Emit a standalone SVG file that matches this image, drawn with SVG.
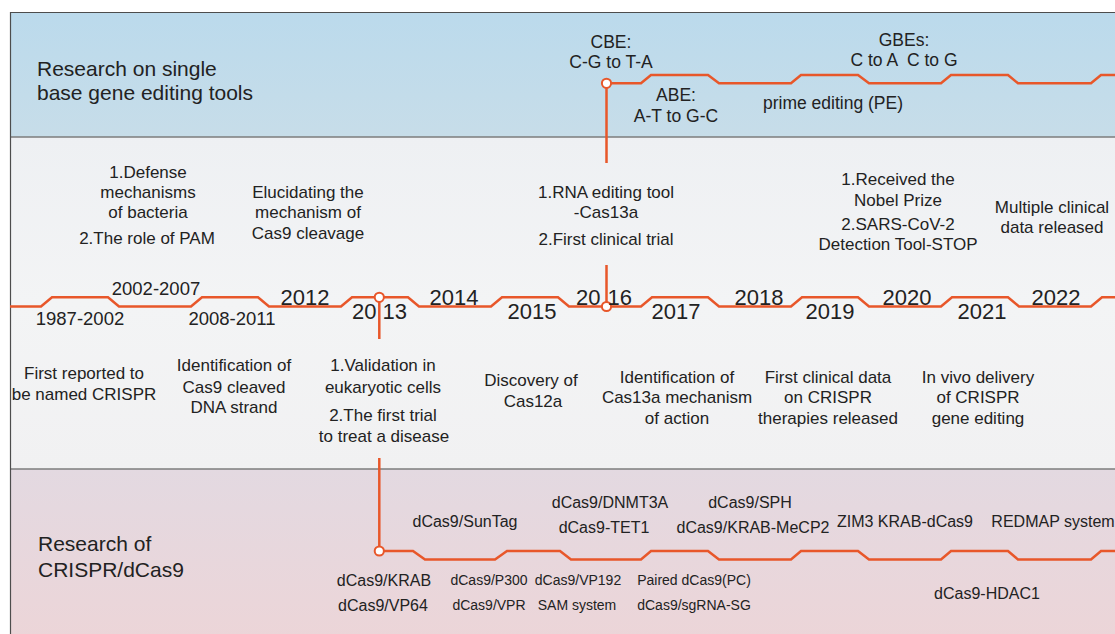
<svg xmlns="http://www.w3.org/2000/svg" width="1115" height="634" viewBox="0 0 1115 634">
  <defs>
    <linearGradient id="bgTop" x1="0" y1="0" x2="0" y2="1">
      <stop offset="0" stop-color="#bbdaec"/>
      <stop offset="1" stop-color="#c7dde9"/>
    </linearGradient>
    <linearGradient id="bgMid" x1="0" y1="0" x2="0" y2="1">
      <stop offset="0" stop-color="#eef0f3"/>
      <stop offset="0.5" stop-color="#f3f4f5"/>
      <stop offset="1" stop-color="#f1f1f2"/>
    </linearGradient>
    <linearGradient id="bgBot" x1="0" y1="0" x2="0" y2="1">
      <stop offset="0" stop-color="#e3d9e1"/>
      <stop offset="1" stop-color="#ecd5d8"/>
    </linearGradient>
  </defs>
  <style>
    text { font-family: "Liberation Sans", Arial, sans-serif; fill: #222; text-anchor: middle; }
    .title { font-size: 21px; text-anchor: start; }
    .base { font-size: 17.5px; }
    .ev { font-size: 17px; }
    .yr { font-size: 22px; }
    .yrs { font-size: 18.5px; }
    .dc { font-size: 16px; }
    .dcs { font-size: 14px; }
    .track { fill: none; stroke: #e8572a; stroke-width: 2.5; stroke-linejoin: miter; }
    .dot { fill: #fff; stroke: #e8572a; stroke-width: 2; }
    .sep { stroke: #7d7d7d; stroke-width: 1.5; }
  </style>

  <!-- panels -->
  <g id="panels">
    <rect x="10" y="12" width="1110" height="125" fill="url(#bgTop)"/>
    <rect x="10" y="137" width="1110" height="332" fill="url(#bgMid)"/>
    <rect x="10" y="469" width="1110" height="170" fill="url(#bgBot)"/>
    <line class="sep" x1="10" y1="137" x2="1115" y2="137"/>
    <line class="sep" x1="10" y1="469" x2="1115" y2="469"/>
    <path d="M10.5,640 V12.5 H1120" fill="none" stroke="#4d4d4d" stroke-width="1.2"/>
  </g>

  <!-- timeline tracks and links -->
  <g id="connectors">
    <path class="track" d="M606.5,83.3 H641 L651,75 H708 L719,83.3 H791 L801,75 H858 L869,83.3 H941 L951,75 H1008 L1018,83.3 H1091 L1101,75 H1116"/>
    <path class="track" d="M10,306.5 H41 L52,297.3 H108 L119,306.5 H191 L202,297.3 H258 L269,306.5 H341 L352,297.3 H408 L419,306.5 H491 L502,297.3 H558 L569,306.5 H641 L652,297.3 H708 L719,306.5 H791 L802,297.3 H858 L869,306.5 H941 L952,297.3 H1008 L1019,306.5 H1091 L1102,297.3 H1116"/>
    <path class="track" d="M379.3,551 H413 L425,559.5 H495 L507,551 H560 L571,559.5 H641 L651,551 H708 L719,559.5 H791 L801,551 H858 L869,559.5 H941 L951,551 H1008 L1018,559.5 H1091 L1101,551 H1116"/>
    <path class="track" d="M606.5,83.3 V163 M606.5,265 V306.5 M379.3,297.3 V339 M379.3,458 V551"/>
    <circle class="dot" cx="606.5" cy="83.3" r="4.6"/>
    <circle class="dot" cx="606.5" cy="306.5" r="4.6"/>
    <circle class="dot" cx="379.3" cy="297.3" r="4.6"/>
    <circle class="dot" cx="379.3" cy="551" r="4.6"/>
  </g>

  <!-- section titles -->
  <g id="title-base">
    <text class="title" x="37" y="76">Research on single</text>
    <text class="title" x="37" y="100">base gene editing tools</text>
  </g>
  <g id="title-dcas9">
    <text class="title" x="38" y="551">Research of</text>
    <text class="title" x="38" y="577">CRISPR/dCas9</text>
  </g>

  <!-- base editing milestones -->
  <g id="cbe">
    <text class="base" x="611" y="48">CBE:</text>
    <text class="base" x="611" y="68">C-G to T-A</text>
  </g>
  <g id="abe">
    <text class="base" x="676" y="101">ABE:</text>
    <text class="base" x="676" y="122">A-T to G-C</text>
  </g>
  <g id="pe">
    <text class="base" x="833" y="109">prime editing (PE)</text>
  </g>
  <g id="gbe">
    <text class="base" x="904" y="46">GBEs:</text>
    <text class="base" x="904" y="66" xml:space="preserve">C to A  C to G</text>
  </g>

  <!-- years -->
  <g id="years">
    <text class="yrs" x="80" y="325">1987-2002</text>
    <text class="yrs" x="156" y="295">2002-2007</text>
    <text class="yrs" x="232" y="325">2008-2011</text>
    <text class="yr" x="305" y="305">2012</text>
    <text class="yr" x="352" y="319" style="text-anchor:start">20<tspan dx="6">13</tspan></text>
    <text class="yr" x="454" y="305">2014</text>
    <text class="yr" x="532" y="319">2015</text>
    <text class="yr" x="576" y="305" style="text-anchor:start">20<tspan dx="7">16</tspan></text>
    <text class="yr" x="676" y="319">2017</text>
    <text class="yr" x="759" y="305">2018</text>
    <text class="yr" x="830" y="319">2019</text>
    <text class="yr" x="907" y="305">2020</text>
    <text class="yr" x="982" y="319">2021</text>
    <text class="yr" x="1056" y="305">2022</text>
  </g>

  <!-- CRISPR events above the track -->
  <g id="ev-defense">
    <text class="ev" x="148" y="178">1.Defense</text>
    <text class="ev" x="148" y="198">mechanisms</text>
    <text class="ev" x="148" y="218">of bacteria</text>
    <text class="ev" x="147" y="244">2.The role of PAM</text>
  </g>
  <g id="ev-cleavage">
    <text class="ev" x="308" y="198">Elucidating the</text>
    <text class="ev" x="308" y="218">mechanism of</text>
    <text class="ev" x="308" y="239">Cas9 cleavage</text>
  </g>
  <g id="ev-cas13a">
    <text class="ev" x="606" y="198">1.RNA editing tool</text>
    <text class="ev" x="606" y="218">-Cas13a</text>
    <text class="ev" x="606" y="245">2.First clinical trial</text>
  </g>
  <g id="ev-nobel">
    <text class="ev" x="898" y="185">1.Received the</text>
    <text class="ev" x="898" y="206">Nobel Prize</text>
    <text class="ev" x="898" y="230">2.SARS-CoV-2</text>
    <text class="ev" x="898" y="250">Detection Tool-STOP</text>
  </g>
  <g id="ev-clinical">
    <text class="ev" x="1052" y="213">Multiple clinical</text>
    <text class="ev" x="1052" y="233">data released</text>
  </g>

  <!-- CRISPR events below the track -->
  <g id="ev-named">
    <text class="ev" x="84" y="379">First reported to</text>
    <text class="ev" x="84" y="400">be named CRISPR</text>
  </g>
  <g id="ev-strand">
    <text class="ev" x="234" y="371">Identification of</text>
    <text class="ev" x="234" y="393">Cas9 cleaved</text>
    <text class="ev" x="234" y="413">DNA strand</text>
  </g>
  <g id="ev-eukaryotic">
    <text class="ev" x="383" y="371">1.Validation in</text>
    <text class="ev" x="383" y="393">eukaryotic cells</text>
    <text class="ev" x="383" y="421">2.The first trial</text>
    <text class="ev" x="384" y="442">to treat a disease</text>
  </g>
  <g id="ev-cas12a">
    <text class="ev" x="531" y="386">Discovery of</text>
    <text class="ev" x="533" y="407">Cas12a</text>
  </g>
  <g id="ev-cas13a-action">
    <text class="ev" x="677" y="383">Identification of</text>
    <text class="ev" x="677" y="403">Cas13a mechanism</text>
    <text class="ev" x="677" y="424">of action</text>
  </g>
  <g id="ev-therapies">
    <text class="ev" x="828" y="383">First clinical data</text>
    <text class="ev" x="828" y="403">on CRISPR</text>
    <text class="ev" x="828" y="424">therapies released</text>
  </g>
  <g id="ev-delivery">
    <text class="ev" x="978" y="383">In vivo delivery</text>
    <text class="ev" x="978" y="403">of CRISPR</text>
    <text class="ev" x="978" y="424">gene editing</text>
  </g>

  <!-- dCas9 tools -->
  <g id="dc-suntag"><text class="dc" x="465" y="527">dCas9/SunTag</text></g>
  <g id="dc-dnmt3a">
    <text class="dc" x="610" y="508">dCas9/DNMT3A</text>
    <text class="dc" x="604" y="533">dCas9-TET1</text>
  </g>
  <g id="dc-sph">
    <text class="dc" x="750" y="508">dCas9/SPH</text>
    <text class="dc" x="753" y="533">dCas9/KRAB-MeCP2</text>
  </g>
  <g id="dc-zim3"><text class="dc" x="905" y="527">ZIM3 KRAB-dCas9</text></g>
  <g id="dc-redmap"><text class="dc" x="1053" y="527">REDMAP system</text></g>
  <g id="dc-krab">
    <text class="dc" x="384" y="586">dCas9/KRAB</text>
    <text class="dc" x="383" y="611">dCas9/VP64</text>
  </g>
  <g id="dc-p300">
    <text class="dcs" x="489" y="585">dCas9/P300</text>
    <text class="dcs" x="489" y="610">dCas9/VPR</text>
  </g>
  <g id="dc-vp192">
    <text class="dcs" x="578" y="585">dCas9/VP192</text>
    <text class="dcs" x="577" y="610">SAM system</text>
  </g>
  <g id="dc-paired">
    <text class="dcs" x="694" y="585">Paired dCas9(PC)</text>
    <text class="dcs" x="694" y="610">dCas9/sgRNA-SG</text>
  </g>
  <g id="dc-hdac1"><text class="dc" x="987" y="599">dCas9-HDAC1</text></g>
</svg>
